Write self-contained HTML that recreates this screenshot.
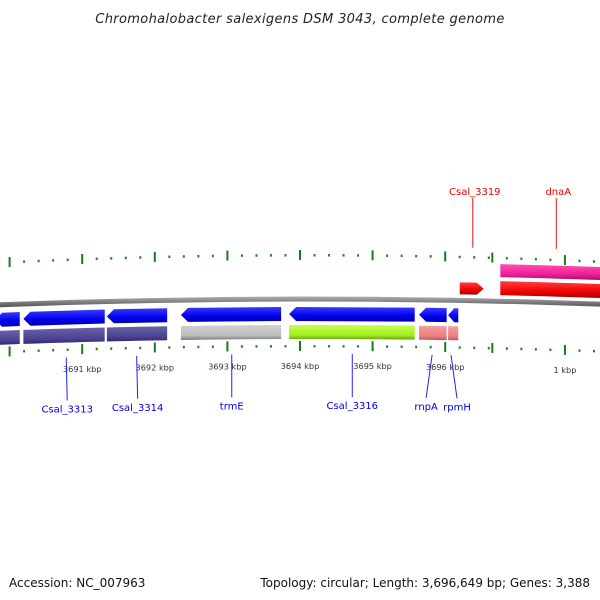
<!DOCTYPE html>
<html><head><meta charset="utf-8"><style>
html,body{margin:0;padding:0;background:#fff;width:600px;height:600px;overflow:hidden}
svg{display:block;font-family:"DejaVu Sans","Liberation Sans",sans-serif}
</style></head><body>
<svg id="chart" width="600" height="600" viewBox="0 0 600 600" xmlns="http://www.w3.org/2000/svg">
<defs>
<linearGradient id="gBlue" x1="0" y1="0" x2="0" y2="1"><stop offset="0" stop-color="#3a3aff"/><stop offset="0.6" stop-color="#0000ee"/><stop offset="1" stop-color="#0000aa"/></linearGradient>
<linearGradient id="gPurple" x1="0" y1="0" x2="0" y2="1"><stop offset="0" stop-color="#6a63a8"/><stop offset="0.7" stop-color="#4a4190"/><stop offset="1" stop-color="#2e2870"/></linearGradient>
<linearGradient id="gGray" x1="0" y1="0" x2="0" y2="1"><stop offset="0" stop-color="#d0d0d0"/><stop offset="0.7" stop-color="#bdbdbd"/><stop offset="1" stop-color="#7a7a7a"/></linearGradient>
<linearGradient id="gGreen" x1="0" y1="0" x2="0" y2="1"><stop offset="0" stop-color="#c4ff50"/><stop offset="0.7" stop-color="#a2ef1e"/><stop offset="1" stop-color="#6aa010"/></linearGradient>
<linearGradient id="gSalmon" x1="0" y1="0" x2="0" y2="1"><stop offset="0" stop-color="#f4a0a0"/><stop offset="0.7" stop-color="#ec8080"/><stop offset="1" stop-color="#b85a5a"/></linearGradient>
<linearGradient id="gRed" x1="0" y1="0" x2="0" y2="1"><stop offset="0" stop-color="#ff4040"/><stop offset="0.6" stop-color="#f00000"/><stop offset="1" stop-color="#a00000"/></linearGradient>
<linearGradient id="gPink" x1="0" y1="0" x2="0" y2="1"><stop offset="0" stop-color="#ff50b0"/><stop offset="0.6" stop-color="#f0209a"/><stop offset="1" stop-color="#a01060"/></linearGradient>
<linearGradient id="gBack" x1="0" y1="0" x2="0" y2="1"><stop offset="0" stop-color="#b0b0b0"/><stop offset="0.5" stop-color="#808080"/><stop offset="1" stop-color="#505050"/></linearGradient>
</defs>
<text x="300" y="23" text-anchor="middle" font-size="13" font-style="italic" letter-spacing="0.35" fill="#222">Chromohalobacter salexigens DSM 3043, complete genome</text>
<g id="layer"></g>
<text x="9" y="587" font-size="12" fill="#111">Accession: NC_007963</text>
<text x="590" y="587" text-anchor="end" font-size="12" fill="#111">Topology: circular; Length: 3,696,649 bp; Genes: 3,388</text>
</svg>
<script>
// genome data (kbp)
const genomeLen = 3696.649;
const lowerGeneNames = ["Csal_3312","Csal_3313","Csal_3314","trmE","Csal_3316","rnpA","rpmH"];
const lowerGeneStart = [3689.80, 3690.19, 3691.34, 3692.36, 3693.85, 3695.64, 3696.04];
const lowerGeneEnd   = [3690.14, 3691.31, 3692.17, 3693.74, 3695.58, 3696.02, 3696.18];
const lowerBandColor = ["gPurple","gPurple","gPurple","gGray","gGreen","gSalmon","gSalmon"];
const upperGeneNames = ["Csal_3319","dnaA"];
const upperGeneStart = [3696.20, 0.11];
const upperGeneEnd   = [3696.53, 1.70];
const tickLabels = ["3691 kbp","3692 kbp","3693 kbp","3694 kbp","3695 kbp","3696 kbp","1 kbp"];
const tickValues = [3691, 3692, 3693, 3694, 3695, 3696, 3697.649];
const geneLabelNames = ["Csal_3313","Csal_3314","trmE","Csal_3316","rnpA","rpmH"];
const geneLabelAt = [3690.78, 3691.75, 3693.06, 3694.72, 3695.82, 3696.08];
const upperLabelNames = ["Csal_3319","dnaA"];
const upperLabelAt = [3696.38, 3697.53];

const NS="http://www.w3.org/2000/svg";
const layer=document.getElementById('layer');
function X(kb){ if(kb<100) kb+=genomeLen; return 300+(kb-3694)*72.6; }
function C(x){ return 6e-5*(x-310)*(x-310); }
function el(tag,attrs){const e=document.createElementNS(NS,tag);for(const k in attrs)e.setAttribute(k,attrs[k]);layer.appendChild(e);return e;}
function band(x1,x2,y1,y2){
  const n=8;let p=[];
  for(let i=0;i<=n;i++){const x=x1+(x2-x1)*i/n;p.push(x+","+(y1+C(x)));}
  for(let i=n;i>=0;i--){const x=x1+(x2-x1)*i/n;p.push(x+","+(y2+C(x)));}
  return p.join(" ");
}
function arrow(x1,x2,y1,y2,dir){
  const h=Math.min(7,(x2-x1)*0.6),ym=(y1+y2)/2;let p=[];
  if(dir<0){
    p.push(x1+","+(ym+C(x1)));p.push((x1+h)+","+(y1+C(x1+h)));p.push(x2+","+(y1+C(x2)));
    p.push(x2+","+(y2+C(x2)));p.push((x1+h)+","+(y2+C(x1+h)));
  }else{
    p.push(x1+","+(y1+C(x1)));p.push((x2-h)+","+(y1+C(x2-h)));p.push(x2+","+(ym+C(x2)));
    p.push((x2-h)+","+(y2+C(x2-h)));p.push(x1+","+(y2+C(x1)));
  }
  return p.join(" ");
}
function tick(x,y,major,name){
  const t=el('rect',major?{x:x-1,y:y-5,width:2,height:10,fill:'#1a7a1a'}:{x:x-1,y:y-1,width:2,height:2.5,fill:'#1a8a1a'});
  
  
}
function ticks(base,scale,name){
  for(let kb=3689.2;kb<=genomeLen+1e-6;kb+=0.2){
    const x=X(kb);
    if(x<-5||x>605) continue;
    tick(x,base+C(x)*scale,Math.abs(kb-Math.round(kb))<0.01,name);
  }
  for(let k=0;k<=1.61;k+=0.2){
    const x=X(genomeLen)+k*72.6;
    tick(x,base+C(x)*scale,Math.abs(k-1)<0.01||k===0,name);
  }
}
ticks(255,1.3,'outer-tick');
ticks(346,1,'inner-tick');
const bb=el('polygon',{points:band(-5,605,296.5,301.5),fill:'url(#gBack)'});


for(let i=0;i<lowerGeneNames.length;i++){
  const x1=X(lowerGeneStart[i]),x2=X(lowerGeneEnd[i]);
  const a=el('polygon',{points:arrow(x1,x2,307,321,-1),fill:'url(#gBlue)'});
  
  
  const b=el('polygon',{points:band(x1,x2,325,339),fill:'url(#'+lowerBandColor[i]+')'});
  
  
}
{
  const x1=X(upperGeneStart[0]),x2=X(upperGeneEnd[0]);
  const a=el('polygon',{points:arrow(x1,x2,281,293,1),fill:'url(#gRed)'});
  
  
  const d1=X(upperGeneStart[1]),d2=X(upperGeneEnd[1]);
  const r=el('polygon',{points:band(d1,d2,279,293),fill:'url(#gRed)'});
  
  
  const p=el('polygon',{points:band(d1,d2,262,275),fill:'url(#gPink)'});
  
  
}
for(let i=0;i<tickLabels.length;i++){
  const x=X(tickValues[i]);
  const t=el('text',{x:x,y:369+C(x),'text-anchor':'middle','font-size':'8.2',fill:'#333'});
  t.textContent=tickLabels[i];
  
  
}
const lblOff=[1,1,0,0,-6,6];
for(let i=0;i<geneLabelNames.length;i++){
  const x=X(geneLabelAt[i]),lx=x+lblOff[i];
  const ly=405+C(lx);
  const l=el('line',{x1:x,y1:354+C(x),x2:lx,y2:ly-8,stroke:'#2020ff','stroke-width':1});
  
  
  const t=el('text',{x:lx,y:ly+4,'text-anchor':'middle','font-size':'10',fill:'#0000dd'});
  t.textContent=geneLabelNames[i];
  
  
}
for(let i=0;i<upperLabelNames.length;i++){
  const x=X(upperLabelAt[i]);
  const l=el('line',{x1:x,y1:198,x2:x,y2:247+C(x)*0.5,stroke:'#ee1010','stroke-width':1});
  
  
  const t=el('text',{x:x+2,y:195,'text-anchor':'middle','font-size':'10',fill:'#ee0000'});
  t.textContent=upperLabelNames[i];
  
  
}
</script>
</body></html>
